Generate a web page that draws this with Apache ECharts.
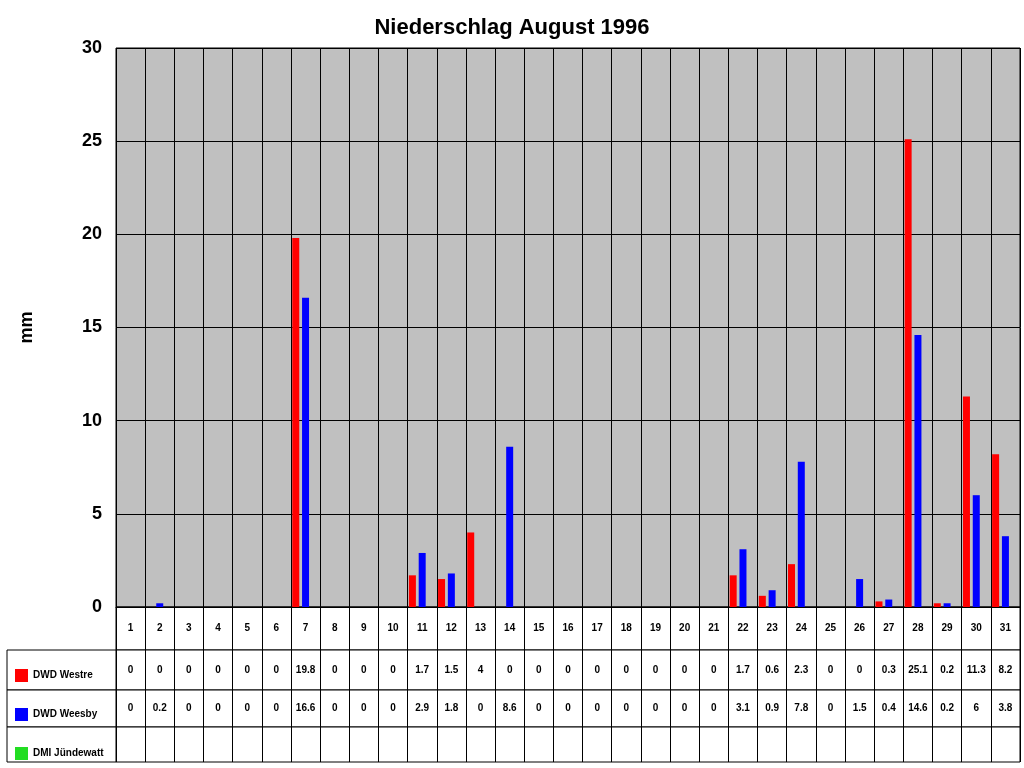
<!DOCTYPE html>
<html><head><meta charset="utf-8">
<script src="https://cdn.jsdelivr.net/npm/echarts@6/dist/echarts.min.js"></script>
<style>html,body{margin:0;padding:0;background:#fff}#c{width:1024px;height:768px}</style>
</head><body><div id="c"></div>
<script>
const days = Array.from({length:31},(_,i)=>String(i+1));
const westre = [0,0,0,0,0,0,19.8,0,0,0,1.7,1.5,4,0,0,0,0,0,0,0,0,1.7,0.6,2.3,0,0,0.3,25.1,0.2,11.3,8.2];
const weesby = [0,0.2,0,0,0,0,16.6,0,0,0,2.9,1.8,0,8.6,0,0,0,0,0,0,0,3.1,0.9,7.8,0,1.5,0.4,14.6,0.2,6,3.8];
const juendewatt = days.map(()=>null);
const names = ['DWD Westre','DWD Weesby','DMI Jündewatt'];
const colors = ['#ff0000','#0000ff','#22dd22'];
const yTicks = {min:0,max:30,interval:5};

const rows = [
  {top:607,h:43,labels:days},
  {top:650,h:40,labels:westre.map(String)},
  {top:690,h:37,labels:weesby.map(String)},
  {top:727,h:35,labels:juendewatt.map(v=>v==null?'':String(v))}
];
const grids=[{left:116,width:904,top:48,height:559,show:true,backgroundColor:'#c0c0c0',borderColor:'#000',borderWidth:1}];
const xAxes=[{type:'category',data:days,gridIndex:0,axisLabel:{show:false},axisTick:{show:false},
  axisLine:{lineStyle:{color:'#000'}},splitLine:{show:true,lineStyle:{color:'#000',width:1}}}];
const yAxes=[{type:'value',gridIndex:0,min:yTicks.min,max:yTicks.max,interval:yTicks.interval,
  name:'mm',nameLocation:'middle',nameGap:80,nameRotate:90,nameTextStyle:{fontSize:18,fontWeight:'bold',color:'#000',fontFamily:'Liberation Sans'},
  axisLabel:{fontSize:18,fontWeight:'bold',color:'#000',margin:14,fontFamily:'Liberation Sans'},axisLine:{show:false},axisTick:{show:false},
  splitLine:{lineStyle:{color:'#000',width:1}}}];
rows.forEach((r,i)=>{
  grids.push({left:116,width:904,top:r.top,height:r.h,show:true,backgroundColor:'#fff',borderColor:'#000',borderWidth:1});
  const gi=grids.length-1;
  xAxes.push({type:'category',gridIndex:gi,data:r.labels,axisTick:{show:false},axisLine:{show:false},
    splitLine:{show:true,lineStyle:{color:'#000'}},
    axisLabel:{interval:0,fontSize:10,fontWeight:'bold',color:'#000',margin:0,fontFamily:'Liberation Sans',
      verticalAlign:'middle',lineHeight:12},offset:-(r.h/2)});
  yAxes.push({type:'value',gridIndex:gi,show:false});
});
rows.slice(1).forEach(r=>{
  grids.push({left:7,width:109,top:r.top,height:r.h,show:true,backgroundColor:'#fff',borderColor:'#000',borderWidth:1});
  const gi=grids.length-1;
  xAxes.push({type:'category',gridIndex:gi,data:[''],show:false});
  yAxes.push({type:'value',gridIndex:gi,show:false});
});
const series=[westre,weesby,juendewatt].map((d,i)=>({name:names[i],type:'bar',xAxisIndex:0,yAxisIndex:0,data:d,
  barWidth:7,barGap:'40%',itemStyle:{color:colors[i]}}));
const chart=echarts.init(document.getElementById('c'));
chart.setOption({
  animation:false,
  title:{text:'Niederschlag August 1996',left:'center',top:12,textStyle:{fontSize:22,fontWeight:'bold',color:'#000',fontFamily:'Liberation Sans'}},
  legend:{orient:'vertical',left:10,top:664,itemWidth:13,itemHeight:13,itemGap:26,icon:'rect',
    textStyle:{fontSize:10,fontWeight:'bold',color:'#000',fontFamily:'Liberation Sans',padding:[10,0,0,0]},data:names},
  grid:grids,xAxis:xAxes,yAxis:yAxes,series
});
</script></body></html>
